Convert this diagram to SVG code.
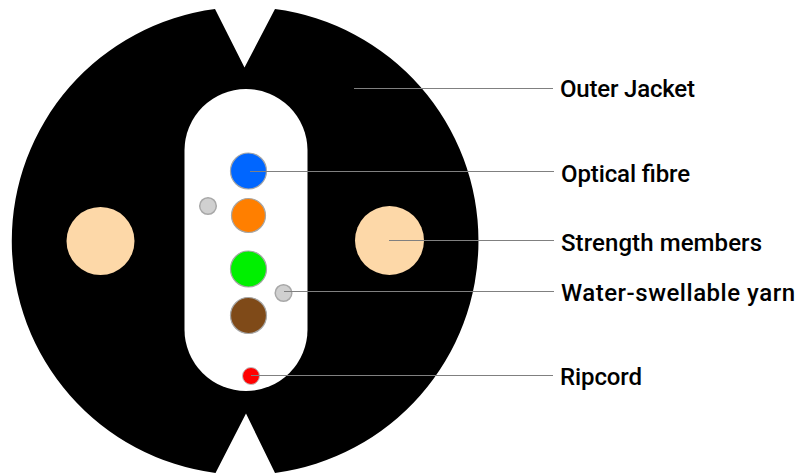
<svg xmlns="http://www.w3.org/2000/svg" width="796" height="475" viewBox="0 0 796 475">
<style>
.l{stroke:#808080;stroke-width:1;fill:none}
.t{font-family:"Roboto","Liberation Sans",sans-serif;font-size:24px;font-weight:500;fill:#000}
.c{stroke:#a6a6a6;stroke-width:1.2}
.y{fill:#d0d0d0;stroke:#a8a8a8;stroke-width:1.5}
</style>
<rect width="796" height="475" fill="#fff"/>
<g id="jacket">
<path d="M215 9L244.500 67.500L275 9A234 234 0 0 1 275 473L246 413.500L215.500 473A234 234 0 0 1 215 9Z" fill="#000"/>
<rect x="184.500" y="89" width="123" height="302" rx="61.500" ry="61.500" fill="#fff"/>
</g>
<g id="strength-left"><circle cx="100.500" cy="241" r="34" fill="#fdd8a8"/></g>
<g id="strength-right"><circle cx="389.500" cy="240.500" r="34.500" fill="#fdd8a8"/></g>
<g id="fibre-blue"><circle cx="248.500" cy="171" r="18" fill="#0066ff" class="c"/></g>
<g id="fibre-orange"><circle cx="248.500" cy="215.500" r="17" fill="#ff7f00" class="c"/></g>
<g id="fibre-green"><circle cx="248.500" cy="269" r="18" fill="#00f000" class="c"/></g>
<g id="fibre-brown"><circle cx="248.500" cy="315.500" r="18" fill="#7f4a18" class="c"/></g>
<g id="yarn-left"><circle cx="208" cy="206" r="8.300" class="y"/></g>
<g id="yarn-right"><circle cx="283.500" cy="293" r="8.300" class="y"/></g>
<g id="ripcord"><circle cx="251" cy="376" r="8.500" fill="#ff0000" stroke="#c0c0c0" stroke-width="1"/></g>
<g id="connectors">
<line class="l" x1="354" y1="88.500" x2="553" y2="88.500"/>
<line class="l" x1="250" y1="171.500" x2="554" y2="171.500"/>
<line class="l" x1="389" y1="240.500" x2="554" y2="240.500"/>
<line class="l" x1="284" y1="291.500" x2="554" y2="291.500"/>
<line class="l" x1="251" y1="375.500" x2="553" y2="375.500"/>
</g>
<g id="labels">
<text class="t" x="560" y="97" textLength="135" lengthAdjust="spacing">Outer Jacket</text>
<text class="t" x="561" y="182" textLength="129" lengthAdjust="spacing">Optical fibre</text>
<text class="t" x="561" y="250.500" textLength="201" lengthAdjust="spacing">Strength members</text>
<text class="t" x="561" y="301" textLength="234" lengthAdjust="spacing">Water-swellable yarn</text>
<text class="t" x="560" y="384.500" textLength="82" lengthAdjust="spacing">Ripcord</text>
</g>
</svg>
